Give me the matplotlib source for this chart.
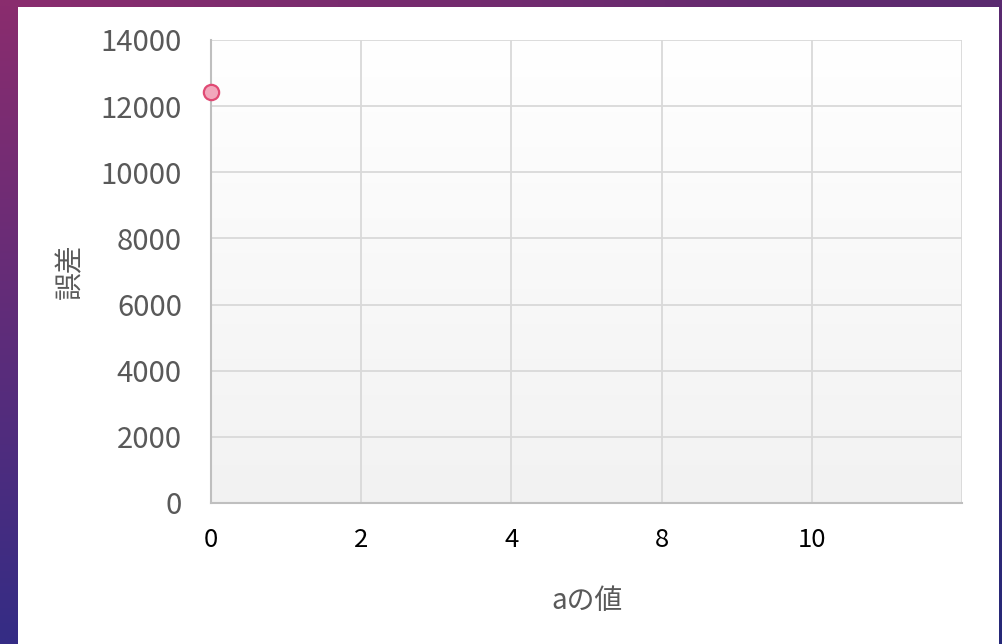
import numpy as np
import matplotlib
matplotlib.use("Agg")
import matplotlib.pyplot as plt

plt.rcParams['font.family'] = ['Noto Sans CJK JP', 'DejaVu Sans']

categories = ['0', '2', '4', '8', '10', '']
errors = [12430, np.nan, np.nan, np.nan, np.nan, np.nan]
y_ticks = [0, 2000, 4000, 6000, 8000, 10000, 12000, 14000]

W, H = 1003, 644
fig = plt.figure(figsize=(W / 100, H / 100), dpi=100)

# slide background gradient
bg = fig.add_axes([0, 0, 1, 1], zorder=-10)
bg.axis('off')
tl = np.array([0x8a, 0x2d, 0x6e]) / 255
tr = np.array([0x5a, 0x2a, 0x70]) / 255
bl = np.array([0x35, 0x2c, 0x85]) / 255
br = np.array([0x26, 0x28, 0x78]) / 255
n = 50
u = np.linspace(0, 1, n)
img = np.zeros((n, n, 3))
for i, v in enumerate(u):
    lft = tl * (1 - v) + bl * v
    rgt = tr * (1 - v) + br * v
    img[i] = lft[None, :] * (1 - u[:, None]) + rgt[None, :] * u[:, None]
bg.imshow(img, extent=[0, 1, 0, 1], aspect='auto', interpolation='bilinear')
bg.set_xlim(0, 1); bg.set_ylim(0, 1)

# white chart area
chart = fig.add_axes([18 / W, 0, (999 - 18) / W, (644 - 7) / H], zorder=-5)
chart.set_facecolor('white')
chart.set_xticks([]); chart.set_yticks([])
for s in chart.spines.values():
    s.set_visible(False)

# plot area
left, right, top, bottom = 211, 962, 40, 503
ax = fig.add_axes([left / W, 1 - bottom / H, (right - left) / W, (bottom - top) / H])
ax.set_facecolor('none')
grad = np.linspace(1.0, 0.949, 100)[:, None]
ax.imshow(np.dstack([grad, grad, grad]), extent=[0, 1, 0, 1], transform=ax.transAxes,
          aspect='auto', zorder=0, interpolation='bilinear')

x = np.arange(len(categories))
ax.plot(x, errors, linestyle='none', marker='o', markersize=11,
        markerfacecolor='#f2a7bc', markeredgecolor='#e04a74', markeredgewidth=1.6,
        zorder=5, clip_on=False)

ax.set_xlim(0, len(categories) - 1)
ax.set_ylim(0, 14000)
ax.set_yticks(y_ticks)
ax.set_yticklabels([str(t) for t in y_ticks])
ax.set_xticks(x)
ax.set_xticklabels(categories)
ax.grid(True, color='#d9d9d9', linewidth=1.3, zorder=1)
ax.set_axisbelow(False)
for s in ['top', 'right']:
    ax.spines[s].set_visible(False)
for s in ['left', 'bottom']:
    ax.spines[s].set_color('#bfbfbf')
    ax.spines[s].set_linewidth(1.5)
    ax.spines[s].set_zorder(3)
ax.tick_params(axis='both', length=0)
ax.tick_params(axis='y', labelsize=21, labelcolor='#595959', pad=21)
ax.tick_params(axis='x', labelsize=18.5, labelcolor='#000000', pad=17)

ax.set_ylabel('誤差', fontsize=20, color='#595959', labelpad=11)
ax.set_xlabel('aの値', fontsize=20, color='#595959', labelpad=24)

fig.savefig('out.png', dpi=100)
